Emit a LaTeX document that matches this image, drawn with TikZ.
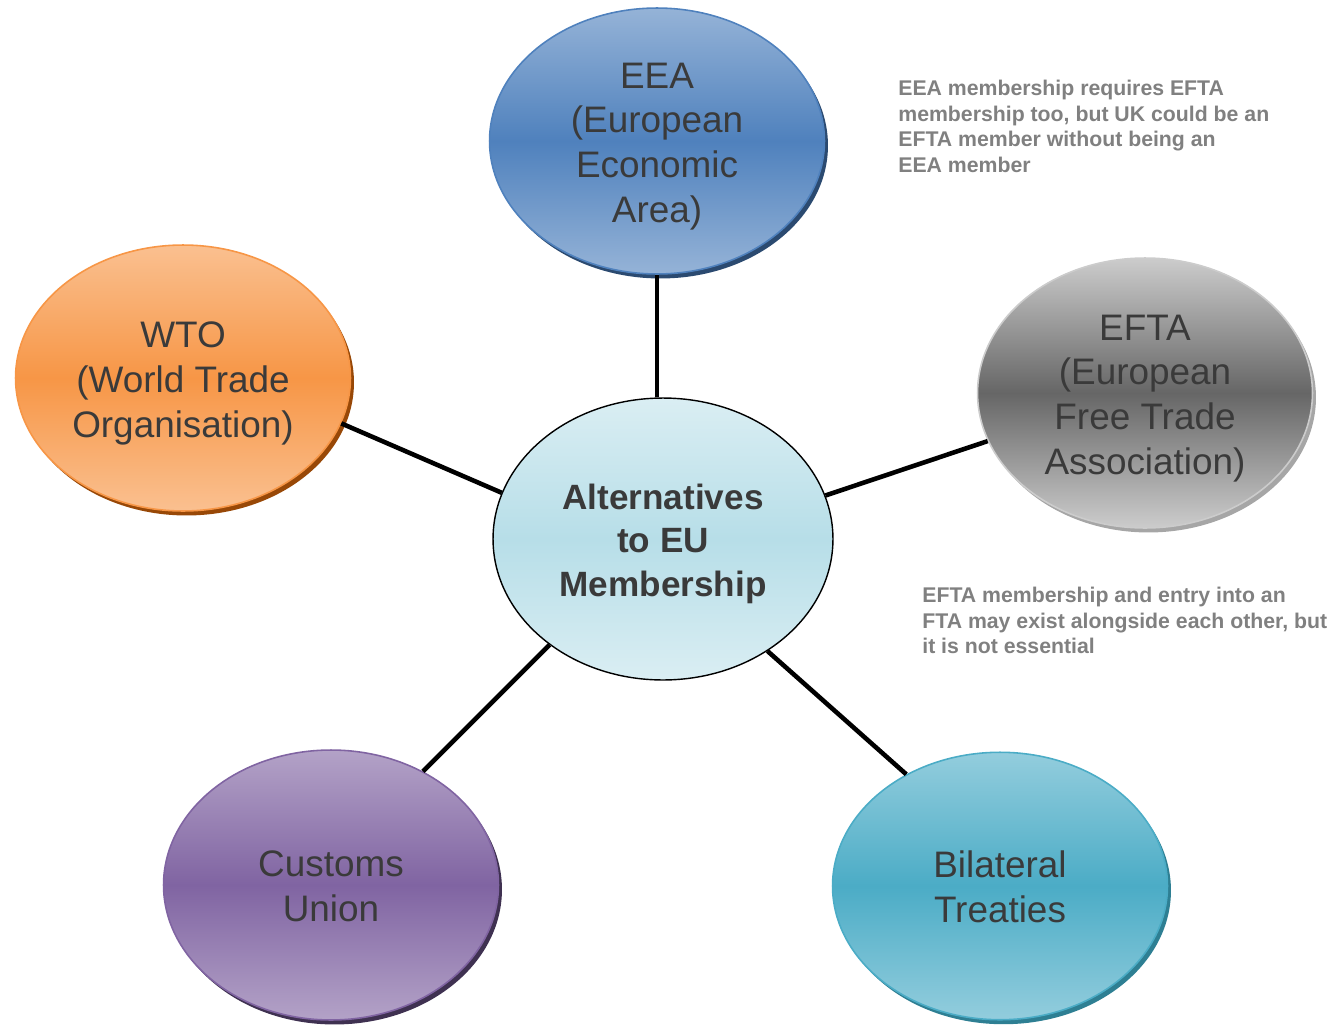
\documentclass[tikz,border=0pt]{standalone}
\usepackage{fontspec}
\setmainfont{Liberation Sans}
\usepackage{tikz}
\usetikzlibrary{shapes.geometric,shadows}
\definecolor{cptext}{HTML}{3A3A3A}
\definecolor{cpnote}{HTML}{808080}
\definecolor{cpblue}{HTML}{4F81BD}
\definecolor{cpbluelt}{HTML}{95B3D7}
\definecolor{cpbluedk}{HTML}{2B4A70}
\definecolor{cporange}{HTML}{F79646}
\definecolor{cporangelt}{HTML}{FAC090}
\definecolor{cporangedk}{HTML}{984807}
\definecolor{cpgray}{HTML}{666666}
\definecolor{cpgraylt}{HTML}{CCCCCC}
\definecolor{cpgraydk}{HTML}{A6A6A6}
\definecolor{cppurple}{HTML}{8064A2}
\definecolor{cppurplelt}{HTML}{B3A2C7}
\definecolor{cppurpledk}{HTML}{3F3151}
\definecolor{cpteal}{HTML}{4BACC6}
\definecolor{cptealt}{HTML}{93CDDD}
\definecolor{cptealdk}{HTML}{2E7F93}
\definecolor{cpcore}{HTML}{B7DEE8}
\definecolor{cpcorelt}{HTML}{DAEEF3}
% fixed ascent/descent for first and last text line, so the block sits centred
\newcommand{\linestrut}{\rule[-0.212em]{0pt}{1.2em}}

\begin{document}
\begin{tikzpicture}[
  x=0.02cm, y=-0.02cm,
  font=\fontsize{21}{25.5}\selectfont,
  blob/.style={ellipse, inner sep=0pt, minimum width=6.7cm, minimum height=5.35cm, align=center, text=cptext, line width=0.9pt,
    execute at end node=\linestrut},
  tinted/.style n args={3}{blob, draw=#1, top color=#2, bottom color=#2, middle color=#1,
    drop shadow={shadow xshift=0.7mm, shadow yshift=-0.9mm, fill=#3, opacity=1}},
  core/.style={blob, minimum width=6.8cm, minimum height=5.64cm, draw=black, line width=0.8pt,
    top color=cpcorelt, bottom color=cpcorelt, middle color=cpcore, text=cptext,
    font=\fontsize{20}{24.7}\bfseries\selectfont},
  link/.style={line width=2.6pt, black},
  note/.style={anchor=north west, inner sep=0pt, align=left, text=cpnote, font=\fontsize{12.1}{14.5}\bfseries\selectfont}]
  \useasboundingbox (0,0) rectangle (1340,1025);

  \node[core] (alt) at (663,539) {\linestrut Alternatives\\ to EU\\ Membership};
  \node[tinted={cpblue}{cpbluelt}{cpbluedk}, minimum height=5.32cm] (eea) at (657,141) {\linestrut EEA\\ (European\\ Economic\\ Area)};
  \node[tinted={cporange}{cporangelt}{cporangedk}, minimum height=5.32cm] (wto) at (183,378) {\linestrut WTO\\ (World Trade\\ Organisation)};
  \node[tinted={cpgraylt}{cpgraylt}{cpgraydk}, middle color=cpgray, minimum height=5.4cm] (efta) at (1145,393) {\linestrut EFTA\\ (European\\ Free Trade\\ Association)};
  \node[tinted={cppurple}{cppurplelt}{cppurpledk}, minimum height=5.4cm] (cu) at (331,885) {\linestrut Customs\\ Union};
  \node[tinted={cpteal}{cptealt}{cptealdk}] (bt) at (1000,886) {\linestrut Bilateral\\ Treaties};

  \draw[link] (eea.south |- alt.north) -- (eea.south);
  \draw[link] (alt.164) -- (wto.-16);
  \draw[link] (alt.15) -- (efta.197);
  \draw[link] (alt.223.5) -- (cu.51.5);
  \draw[link] (alt.-47.3) -- (bt.130.4);

  \node[note] (eeanote) at (898,80) {EEA membership requires EFTA\\ membership too, but UK could be an\\ EFTA member without being an\\ EEA member};
  \node[note] (ftanote) at (922,587) {EFTA membership and entry into an\\ FTA may exist alongside each other, but\\ it is not essential};
\end{tikzpicture}
\end{document}
